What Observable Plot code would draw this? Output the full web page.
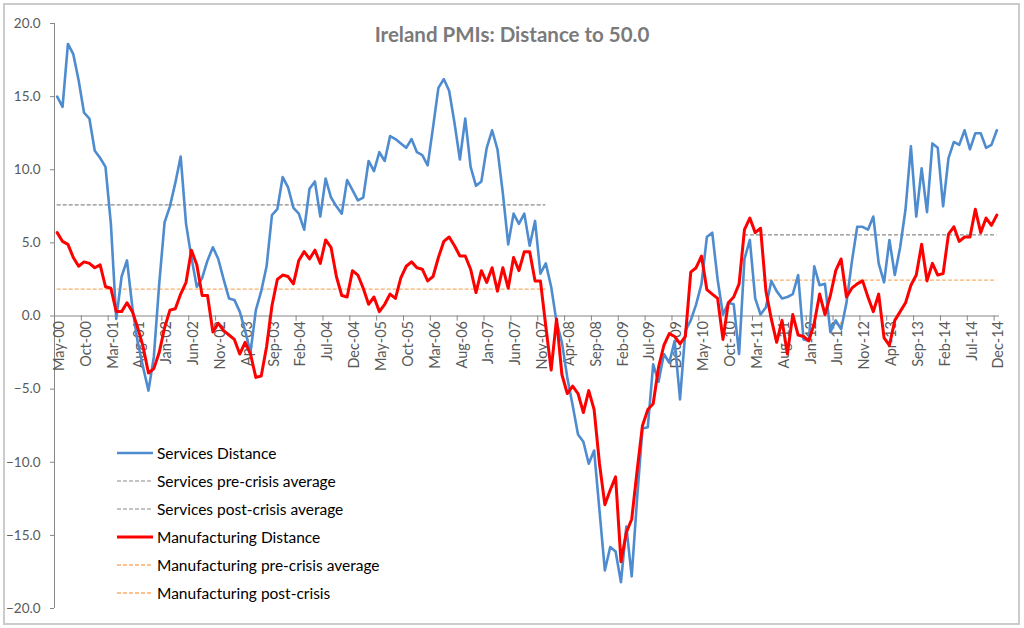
<!DOCTYPE html>
<html><head><meta charset="utf-8">
<script src="https://cdn.jsdelivr.net/npm/d3@7"></script>
<script src="https://cdn.jsdelivr.net/npm/@observablehq/plot@0.6"></script>
<style>
body{margin:0;background:#fff;font-family:Lato,sans-serif;}
#wrap{position:relative;width:1024px;height:628px;overflow:hidden}
#frame{position:absolute;left:3px;top:3px;width:1013px;height:618px;border:2px solid #cbcbcb;pointer-events:none}
#title{position:absolute;left:0;width:1024px;top:22px;text-align:center;font-weight:bold;font-size:20.5px;color:#7a7a7a;line-height:24px}
#legend{position:absolute;left:117px;top:439px;font-size:15.5px;color:#000}
.row{height:28px;display:flex;align-items:center}
.row svg{margin-right:4px}
</style></head>
<body>
<div id="wrap">
  <div id="chart"></div>
  <div id="title"></div>
  <div id="legend"></div>
  <div id="frame"></div>
</div>
<script>
const chartTitle = "Ireland PMIs: Distance to 50.0";
const firstMonth = {year: 2000, month: 4}; // May-00

const services = [
  15.0, 14.3, 18.6, 17.9, 16.1, 13.9, 13.5, 11.3, 10.8, 10.2,
  6.3, -0.2, 2.7, 3.8, 0.6, -1.8, -3.5, -5.1, -2.8, 2.2,
  6.4, 7.5, 9.1, 10.9, 6.3, 4.0, 2.0, 2.6, 3.8, 4.7,
  3.9, 2.5, 1.2, 1.1, 0.3, -1.0, -2.5, 0.4, 1.7, 3.4,
  6.9, 7.3, 9.5, 8.8, 7.4, 7.0, 5.9, 8.7, 9.2, 6.8,
  9.4, 8.1, 7.5, 7.0, 9.3, 8.6, 7.9, 8.1, 10.6, 9.9,
  11.2, 10.6, 12.3, 12.1, 11.8, 11.5, 12.1, 11.2, 11.0, 10.3,
  12.9, 15.6, 16.2, 15.4, 13.2, 10.7, 13.5, 10.2, 8.9, 9.2,
  11.5, 12.7, 11.4, 8.4, 4.9, 7.0, 6.3, 7.0, 4.8, 6.5,
  2.9, 3.6, 2.0, -0.4, -1.8, -4.2, -6.1, -8.1, -8.6, -10.1,
  -9.2, -13.3, -17.4, -15.8, -16.1, -18.2, -14.4, -17.8, -12.5, -7.7,
  -7.6, -3.3, -4.5, -2.6, -3.2, -1.7, -5.7, -1.0, -0.3, 0.8,
  2.2, 5.4, 5.7, 2.5, 0.1, 0.9, 0.8, -2.6, 3.9, 5.2,
  1.2, 0.1, 0.6, 2.4, 1.7, 1.2, 1.3, 1.5, 2.8, -1.6,
  -1.7, 3.4, 2.1, 2.2, -1.1, -0.3, -0.9, 0.9, 3.7, 6.1,
  6.1, 5.9, 6.8, 3.6, 2.3, 5.2, 2.8, 4.7, 7.3, 11.6,
  6.8, 10.1, 7.1, 11.8, 11.5, 7.5, 10.8, 11.9, 11.7, 12.7,
  11.4, 12.5, 12.5, 11.5, 11.7, 12.7
];

const manufacturing = [
  5.7, 5.1, 4.9, 4.0, 3.4, 3.7, 3.6, 3.3, 3.5, 2.0,
  1.9, 0.3, 0.3, 0.9, 0.3, -0.8, -2.1, -3.9, -3.6, -2.5,
  -0.8, 0.4, 0.5, 1.5, 2.3, 4.5, 3.5, 1.4, 1.4, -1.1,
  -0.5, -1.0, -1.3, -1.6, -2.6, -1.8, -2.6, -4.2, -4.1, -2.1,
  0.7, 2.5, 2.8, 2.7, 2.2, 3.8, 4.4, 3.9, 4.5, 3.6,
  5.2, 4.7, 2.7, 1.4, 1.3, 3.1, 2.8, 1.9, 0.8, 1.3,
  0.3, 0.8, 1.5, 1.2, 2.6, 3.4, 3.7, 3.3, 3.2, 2.4,
  2.7, 4.0, 5.1, 5.4, 4.8, 4.1, 4.1, 3.2, 1.6, 3.1,
  2.3, 3.3, 1.7, 3.3, 1.9, 4.0, 3.1, 4.4, 4.4, 2.4,
  2.4, -0.7, -3.7, -0.2, -4.0, -5.3, -4.8, -5.3, -6.6, -5.1,
  -6.4, -10.1, -12.9, -11.9, -11.0, -16.8, -14.8, -13.9, -10.6, -7.5,
  -6.4, -6.0, -3.5, -2.0, -1.2, -1.4, -1.9, -1.4, 3.0, 3.3,
  4.1, 1.8, 1.5, 1.2, -1.6, 0.9, 1.3, 2.2, 5.9, 6.7,
  5.7, 6.0, 1.7, -0.2, -1.8, -0.3, -2.6, 0.1, -1.3, -1.4,
  -1.7, -0.5, 1.5, 0.1, 1.4, 3.1, 3.9, 1.3, 1.9, 2.2,
  2.4, 1.3, 0.3, 1.5, -1.5, -2.0, -0.3, 0.3, 0.9, 2.1,
  2.8, 4.9, 2.4, 3.6, 2.8, 2.9, 5.6, 6.1, 5.1, 5.4,
  5.4, 7.3, 5.7, 6.7, 6.2, 6.9
];

const averageNames = ["Services pre-crisis average", "Services post-crisis average",
                      "Manufacturing pre-crisis average", "Manufacturing post-crisis"];
const averageValues = [7.6, 5.55, 1.84, 2.45];
const averagePeriods = [["May-00", "Dec-07"], ["Jan-11", "Dec-14"], ["May-00", "Dec-07"], ["Jan-11", "Dec-14"]];

const tickLabels = ["May-00","Oct-00","Mar-01","Aug-01","Jan-02","Jun-02","Nov-02","Apr-03","Sep-03",
  "Feb-04","Jul-04","Dec-04","May-05","Oct-05","Mar-06","Aug-06","Jan-07","Jun-07","Nov-07","Apr-08",
  "Sep-08","Feb-09","Jul-09","Dec-09","May-10","Oct-10","Mar-11","Aug-11","Jan-12","Jun-12","Nov-12",
  "Apr-13","Sep-13","Feb-14","Jul-14","Dec-14"];
const yTicks = [-20, -15, -10, -5, 0, 5, 10, 15, 20];

const blue = "#4e8ccf", red = "#ff0000", grey = "#8a8a8a", orange = "#f9b06a";
const axisGrey = "#868686", labelGrey = "#595959";

const fmt = d3.utcFormat("%b-%y");
const months = services.map((_, i) => fmt(new Date(Date.UTC(firstMonth.year, firstMonth.month + i, 1))));
const data = months.map((m, i) => ({i, m, s: services[i], mf: manufacturing[i]}));
const n = data.length;
const labelled = data.filter(d => tickLabels.includes(d.m));
const tickPos = labelled.filter(d => d.i > 0).map(d => d.i - 0.5);
const avgs = averageNames.map((name, k) => ({
  name, y: averageValues[k],
  x1: months.indexOf(averagePeriods[k][0]), x2: months.indexOf(averagePeriods[k][1]),
  color: name.startsWith("Services") ? grey : orange
}));

const plot = Plot.plot({
  width: 1024, height: 628,
  marginLeft: 54, marginRight: 25, marginTop: 23, marginBottom: 20,
  style: {fontFamily: "Lato, sans-serif", background: "transparent"},
  x: {type: "linear", domain: [-0.5, n - 0.5], axis: null},
  y: {domain: [-20, 20], axis: null},
  marks: [
    Plot.ruleY(avgs, {y: "y", x1: "x1", x2: "x2", stroke: "color", strokeWidth: 1.4, strokeDasharray: "4,2"}),
    Plot.ruleX([-0.5], {y1: -20, y2: 20, stroke: axisGrey}),
    Plot.ruleY([0], {x1: -0.5, x2: n - 0.5, stroke: axisGrey}),
    Plot.ruleX(tickPos, {y1: 0, y2: -0.35, stroke: axisGrey}),
    Plot.axisY({ticks: yTicks, tickFormat: d3.format(".1f"), tickSize: 4, tickPadding: 10,
      stroke: axisGrey, color: labelGrey, fontSize: 13.5}),
    Plot.text(labelled, {x: "i", y: 0, text: "m", rotate: -90, textAnchor: "end", dy: 5, dx: 2,
      fontSize: 14.5, fill: labelGrey}),
    Plot.lineY(data, {x: "i", y: "s", stroke: blue, strokeWidth: 2.6}),
    Plot.lineY(data, {x: "i", y: "mf", stroke: red, strokeWidth: 3})
  ]
});
document.getElementById("chart").appendChild(plot);
document.getElementById("title").textContent = chartTitle;

const legendItems = [
  {name: "Services Distance", color: blue, width: 2.6, dash: null},
  {name: averageNames[0], color: grey, width: 1.2, dash: "4,2"},
  {name: averageNames[1], color: grey, width: 1.2, dash: "4,2"},
  {name: "Manufacturing Distance", color: red, width: 3, dash: null},
  {name: averageNames[2], color: orange, width: 1.4, dash: "4,2"},
  {name: averageNames[3], color: orange, width: 1.4, dash: "4,2"}
];
const leg = document.getElementById("legend");
for (const it of legendItems) {
  const row = document.createElement("div");
  row.className = "row";
  row.innerHTML = `<svg width="36" height="6"><line x1="0" x2="36" y1="3" y2="3" stroke="${it.color}" stroke-width="${it.width}" ${it.dash ? `stroke-dasharray="${it.dash}"` : ""}/></svg><span>${it.name}</span>`;
  leg.appendChild(row);
}
</script>
</body></html>
